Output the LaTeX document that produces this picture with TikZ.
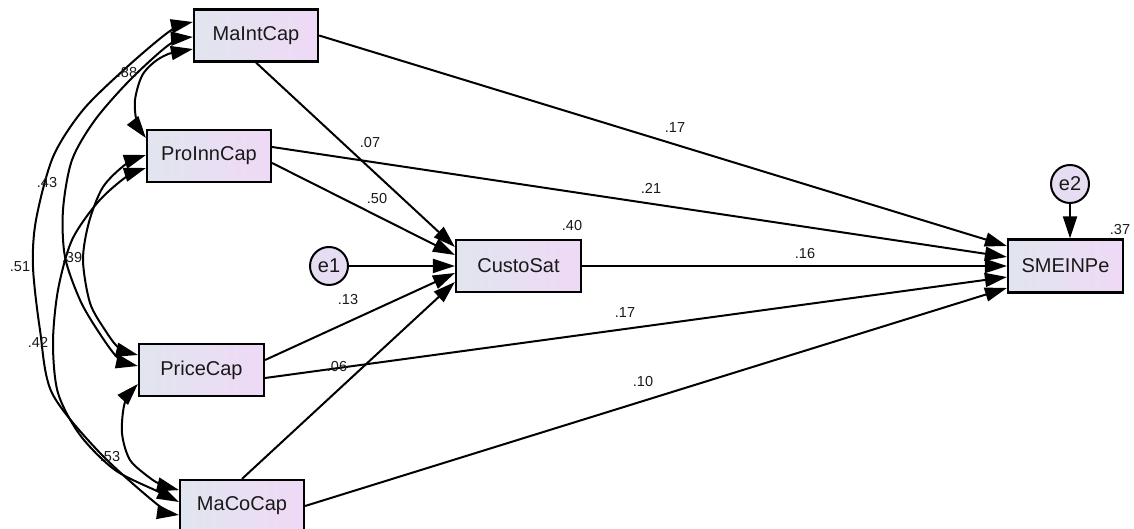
\documentclass[tikz,border=0pt]{standalone}
\usepackage{fontspec}
\setmainfont{Liberation Sans}
\usetikzlibrary{arrows.meta}
\definecolor{boxL}{HTML}{E1E5EF}
\definecolor{boxR}{HTML}{EFD9F6}
\definecolor{errC}{HTML}{E6DDF2}
\begin{document}
\begin{tikzpicture}[x=1pt,y=1pt,
  var/.style={draw=black, line width=2.2pt, left color=boxL, right color=boxR,
    minimum width=124pt, minimum height=52pt, inner sep=0pt,
    font=\fontsize{20}{21}\selectfont, text=black!90},
  err/.style={circle, draw=black, line width=2pt, fill=errC, minimum size=38pt,
    inner sep=0pt, font=\fontsize{20}{21}\selectfont, text=black!90},
  arr/.style={line width=2pt, -{Triangle[length=22pt,width=14pt]}},
  cov/.style={line width=2pt, {Triangle[length=22pt,width=14pt]}-{Triangle[length=22pt,width=14pt]}},
  lab/.style={font=\fontsize{14.5}{15}\selectfont, inner sep=0pt, text=black!90}]
\useasboundingbox[fill=white] (0,0) rectangle (1134,529);

% variables
\node[var] (MaIntCap) at (256,493.5) {MaIntCap};
\node[var] (ProInnCap) at (209,373) {ProInnCap};
\node[var, minimum width=125pt] (PriceCap) at (201.5,159) {PriceCap};
\node[var] (MaCoCap) at (242,23) {MaCoCap};
\node[var, minimum width=125pt] (CustoSat) at (518.5,263) {CustoSat};
\node[var, minimum width=115pt, minimum height=53pt] (SMEINPe) at (1065.5,263) {SMEINPe};
\node[err] (e1) at (329,263) {e1};
\node[err] (e2) at (1070,345) {e2};

% covariances
\draw[cov] plot[smooth] coordinates {([yshift=13.5pt]MaIntCap.west) (170,498) (127,462) (83,419) (53,372) (36,309) (33,262) (40,199) (52,136) (100,76) (158,24) ([yshift=-9pt]MaCoCap.west)};
\draw[cov] plot[smooth] coordinates {([yshift=-1.5pt]MaIntCap.west) (170,485) (130,449) (95,409) (72,369) (63,319) (65,272) (80,229) (98,198) (118,171) ([yshift=4pt]PriceCap.west)};
\draw[cov] plot[smooth] coordinates {([yshift=-13.5pt]MaIntCap.west) (162,472) (143,455) (135,429) (137,406) ([yshift=18pt]ProInnCap.west)};
\draw[cov] plot[smooth] coordinates {([yshift=1pt]ProInnCap.west) (126,365) (103,342) (89,307) (83,269) (90,226) (105,199) (119,181) ([yshift=15pt]PriceCap.west)};
\draw[cov] plot[smooth] coordinates {([yshift=-12pt]ProInnCap.west) (126,352) (98,327) (72,289) (58,239) (53,186) (58,136) (80,94) (115,59) (159,37) ([yshift=4pt]MaCoCap.west)};
\draw[cov] plot[smooth] coordinates {([yshift=-14pt]PriceCap.west) (125,127) (122,96) (130,69) (150,51) (162,44) ([yshift=16pt]MaCoCap.west)};

% regressions
\draw[arr] (MaIntCap.south) -- ([yshift=19pt]CustoSat.west);
\draw[arr] (MaIntCap.east) -- ([yshift=20pt]SMEINPe.west);
\draw[arr] ([yshift=9pt]ProInnCap.east) -- ([yshift=9pt]SMEINPe.west);
\draw[arr] ([yshift=-7pt]ProInnCap.east) -- ([yshift=11pt]CustoSat.west);
\draw[arr] (e1.east) -- (CustoSat.west);
\draw[arr] ([yshift=10pt]PriceCap.east) -- ([yshift=-7pt]CustoSat.west);
\draw[arr] ([yshift=-8pt]PriceCap.east) -- ([yshift=-11pt]SMEINPe.west);
\draw[arr] (MaCoCap.north) -- ([yshift=-16pt]CustoSat.west);
\draw[arr] (MaCoCap.east) -- ([yshift=-22pt]SMEINPe.west);
\draw[arr] (CustoSat.east) -- (SMEINPe.west);
\draw[arr] (e2.south) -- (e2.south |- SMEINPe.north);

% labels
\node[lab] (l88) at (127,456) {.88};
\node[lab] (l43) at (47,346) {.43};
\node[lab] (l51) at (20,262) {.51};
\node[lab] (l39) at (72,271) {.39};
\node[lab] (l42) at (38,187) {.42};
\node[lab] (l53) at (110,72) {.53};
\node[lab] (l07) at (370,386) {.07};
\node[lab] (l50) at (377,330) {.50};
\node[lab] (l13) at (348,229) {.13};
\node[lab] (l06) at (337,162) {.06};
\node[lab] (l17a) at (675,401) {.17};
\node[lab] (l21) at (651,341) {.21};
\node[lab] (l40) at (572,303) {.40};
\node[lab] (l16) at (805,275) {.16};
\node[lab] (l17b) at (625,216) {.17};
\node[lab] (l10) at (643,147) {.10};
\node[lab] (l37) at (1120,299) {.37};
\end{tikzpicture}
\end{document}
